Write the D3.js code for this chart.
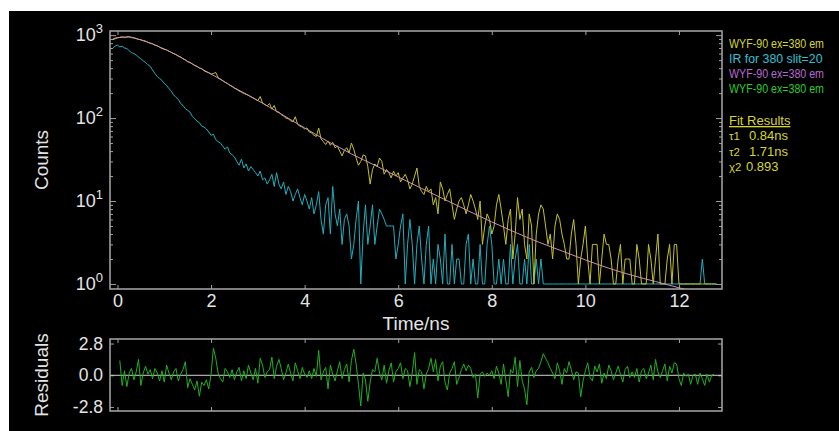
<!DOCTYPE html>
<html>
<head>
<meta charset="utf-8">
<title>WYF-90 decay</title>
<style>
  body { margin: 0; background: #fff; }
  svg { display: block; font-family: 'Liberation Sans', Arial, sans-serif; }
  .tick text { fill: #e4e4e4; }
  .tick line { stroke: #a0a0a0; }
</style>
</head>
<body>
<div id="viz"></div>
<script src="https://cdn.jsdelivr.net/npm/d3@7"></script>
<script>
// channel width and start time of the traces (ns)
var channelNs = 0.05;
var firstChannelNs = -0.1;
var residualStartNs = 0.05;

// WYF-90 decay, counts per channel
var decayCounts = [
  880, 905, 925, 940, 955, 935, 950, 960, 930, 925, 905, 890, 880, 860, 850, 820, 800, 790, 760, 745,
  715, 690, 675, 665, 640, 620, 600, 585, 560, 548, 520, 505, 478, 470, 450, 430, 420, 400, 395, 372,
  360, 352, 338, 345, 355, 308, 296, 282, 270, 262, 248, 240, 228, 222, 212, 205, 198, 193, 188, 180,
  175, 168, 162, 182, 152, 146, 140, 150, 128, 142, 119, 118, 110, 106, 100, 98, 93, 90, 104, 84,
  80, 78, 74, 76, 68, 66, 62, 60, 76, 56, 52, 48, 53, 47, 51, 44, 46, 40, 35, 41,
  44, 38, 50, 42, 33, 27, 30, 36, 35, 26, 16, 24, 28, 26, 33, 30, 21, 24, 22, 19,
  23, 20, 22, 17, 19, 21, 18, 14, 16, 20, 25, 15, 13, 12, 15, 13, 14, 9, 11, 7,
  17, 14, 10, 12, 14, 9, 6, 8, 10, 11, 9, 7, 9, 12, 10, 8, 6, 10, 3, 5,
  7, 6, 4, 5, 9, 12, 8, 5, 3, 6, 8, 2, 4, 11, 6, 8, 3, 2, 7, 5,
  1, 4, 7, 9, 8, 5, 3, 4, 2, 5, 7, 6, 4, 3, 2, 2, 4, 6, 3, 1,
  2, 3, 5, 2, 1, 3, 3, 3, 1, 2, 4, 3, 3, 2, 1, 1, 2, 3, 1, 2,
  2, 2, 1, 1, 3, 2, 1, 1, 1, 3, 2, 1, 2, 4, 1, 1, 1, 2, 3, 1,
  3, 3, 1, 1, 1, 1, 1, 1, 1, 1, 1, 1, 1, 1, 1, 1, 1, 1, 1
];

// instrument response, counts per channel
var irfCounts = [
  690, 740, 760, 720, 735, 700, 690, 650, 615, 600, 575, 545, 520, 490, 470, 440, 420, 380, 345, 318,
  300, 285, 262, 248, 226, 212, 190, 178, 168, 150, 142, 130, 124, 118, 105, 98, 92, 88, 80, 78,
  74, 68, 62, 64, 55, 52, 50, 46, 42, 45, 38, 36, 34, 30, 27, 32, 25, 28, 23, 26,
  24, 22, 20, 23, 18, 19, 16, 18, 21, 15, 22, 16, 14, 17, 12, 15, 13, 10, 12, 14,
  11, 9, 12, 10, 8, 11, 7, 9, 13, 6, 4, 9, 11, 4, 15, 7, 5, 8, 3, 6,
  7, 5, 2, 3, 6, 10, 1, 4, 9, 3, 5, 9, 3, 5, 8, 7, 6, 5, 5, 5,
  5, 2, 3, 5, 7, 1, 3, 6, 3, 1, 3, 5, 2, 1, 3, 5, 1, 2, 1, 3,
  2, 1, 4, 1, 1, 3, 1, 2, 2, 1, 1, 3, 4, 1, 2, 1, 1, 3, 1, 1,
  3, 5, 3, 1, 1, 2, 1, 2, 1, 1, 3, 1, 2, 3, 1, 1, 2, 1, 3, 1,
  1, 2, 1, 2, 1, 1, 1, 1, 1, 1, 1, 1, 1, 1, 1, 1, 1, 1, 1, 1,
  1, 1, 1, 1, 1, 1, 1, 1, 1, 1, 1, 1, 1, 1, 1, 1, 1, 1, 1, 1,
  1, 1, 1, 1, 1, 1, 1, 1, 1, 1, 1, 1, 1, 1, 1, 1, 1, 1, 1, 1,
  1, 1, 1, 1, 1, 1, 1, 1, 1, 1, 1, 1, 2, 1, 1, 1, 1, 1, 1
];

// fitted curve
var fitTimes = [-0.1, 0, 0.25, 0.5, 0.75, 1, 1.25, 1.5, 1.75, 2, 2.25, 2.5, 2.75, 3, 3.25, 3.5, 3.75, 4,
  4.25, 4.5, 4.75, 5, 5.5, 6, 6.5, 7, 7.5, 8, 8.5, 9, 9.5, 10, 10.5, 11, 11.5, 12, 12.5];
var fitCounts = [900, 935, 950, 875, 780, 680, 580, 482, 405, 340, 282, 232, 195, 163, 135, 112, 92, 76,
  63, 52, 44, 37, 27, 19.5, 14.2, 10.4, 7.6, 5.6, 4.2, 3.2, 2.5, 1.95, 1.55, 1.27, 1.07, 0.9, 0.76];

// weighted residuals
var residuals = [
  1.3, -0.9, 0.4, -1.0, 0.2, 0.6, -0.4, 0.3, 1.4, -0.9, 0.2, 0.8, 0.1, 0.5, -0.3, 0.6, 0.2, -0.5, 0.4, -0.6,
  0.9, 0.2, -0.4, 0.3, 0.6, -0.5, 0.1, 0.5, 1.2, -1.1, -0.3, -0.8, -1.3, -0.5, -1.85, -0.6, -0.9, -0.4, -1.2, 0.1,
  2.4, 1.5, 0.2, -0.3, -0.6, 0.6, 0.3, -0.2, 0.5, -0.4, 0.3, 0.7, -0.5, 0.4, -0.3, 0.9, 0.2, -0.4, 0.6, -0.7,
  1.5, 0.9, -0.2, 0.3, 0.5, 1.6, -0.3, 0.8, 1.4, 0.6, -0.4, 0.2, 1.0, 0.2, -0.5, 1.1, 0.4, -0.3, 0.7, 0.1,
  -0.2, 0.4, -0.3, 0.6, -0.1, 2.2, -0.4, 0.3, 0.7, -1.2, 0.9, 0.1, -0.5, 0.4, 1.2, -0.3, 0.5, 1.0, -0.6, 1.3,
  2.3, 1.0, -0.8, -2.7, 0.2, -0.4, -2.3, -0.6, 0.5, 0.3, 1.5, 0.2, -0.4, 0.9, -0.7, 0.4, 1.1, -0.6, 0.3, 0.6,
  1.1, -0.3, 0.6, 0.4, -1.0, 0.2, 2.0, -0.8, 0.5, 0.3, -1.2, 0.1, 0.6, 1.5, 0.3, 1.4, -0.5, 0.8, 1.2, -0.6,
  -1.3, 0.2, 0.6, 1.2, -0.8, -0.2, 0.5, 1.0, 0.4, 0.9, 0.6, -0.2, 0.1, -2.0, 0.1, 0.3, -0.1, 0.2, 0.0, 0.4,
  -0.3, 0.8, 0.2, -0.8, 1.0, -0.4, -1.9, 0.5, 0.2, 1.6, -1.0, 1.3, -0.5, -1.2, -2.6, 0.3, 0.7, -0.2, 0.4, 0.6,
  1.2, 1.9, 1.5, 1.1, 0.6, 0.2, -0.3, 1.1, 0.4, -0.8, 0.6, 0.2, 1.2, 0.5, -0.4, 0.3, 0.2, -1.9, -0.5, 0.4,
  1.1, -0.2, -0.5, 0.8, 0.3, 1.0, -0.7, 0.2, -0.3, 0.9, 0.4, -0.4, 0.2, 0.8, 0.1, -0.6, 0.5, 0.8, -0.2, 0.3,
  -0.2, 0.6, -0.6, 0.4, 0.6, -0.3, 0.2, 0.9, -0.4, 1.4, 0.3, -0.2, 0.4, 1.0, -0.5, 0.8, 0.2, 1.1, 1.0, -0.3,
  -0.9, 0.2, -0.1, 0.1, -0.8, 0.0, 0.1, -0.8, 0.2, -0.3, -0.9, 0.1, -0.6, 0.0, 0.1
];

var timeTicks = [0, 2, 4, 6, 8, 10, 12];
var countTicks = [1, 10, 100, 1000];
var residualTicks = [-2.8, 0, 2.8];
var legendLabels = ['WYF-90 ex=380 em', 'IR for 380 slit=20', 'WYF-90 ex=380 em', 'WYF-90 ex=380 em'];
var fitNames = ['\u03c41', '\u03c42', '\u03c72'];
var fitValues = ['0.84ns', '1.71ns', '0.893'];

var legendColors = ['#d6d62c', '#2ec2d4', '#b86ad2', '#2ccc2c'];
var W = 839, H = 431;
var plot = {left: 110, right: 722, top: 31, bottom: 289};
var res = {top: 339, bottom: 411};

var svg = d3.select('#viz').append('svg')
    .attr('width', W)
    .attr('height', H);

svg.append('rect')
    .attr('x', 9).attr('y', 11)
    .attr('width', W - 9).attr('height', H - 11)
    .attr('fill', '#000');

var x = d3.scaleLinear().domain([-0.16, 12.92]).range([plot.left, plot.right]);
var y = d3.scaleLog().domain([0.87, 1122]).range([plot.bottom, plot.top]);
var yr = d3.scaleLinear().domain([-3.15, 3.2]).range([res.bottom, res.top]);

// minor log ticks 2..9 in each decade
var minorTicks = [];
countTicks.forEach(function(d) {
  for (var m = 2; m <= 9; m++) {
    if (d * m < y.domain()[1]) minorTicks.push(d * m);
  }
});

svg.append('clipPath').attr('id', 'clipMain')
  .append('rect')
    .attr('x', plot.left).attr('y', plot.top)
    .attr('width', plot.right - plot.left).attr('height', plot.bottom - plot.top);

svg.append('clipPath').attr('id', 'clipRes')
  .append('rect')
    .attr('x', plot.left).attr('y', res.top)
    .attr('width', plot.right - plot.left).attr('height', res.bottom - res.top);

function styleAxis(g, size) {
  g.attr('font-family', "'Liberation Sans', Arial, sans-serif")
   .attr('font-size', size);
  g.select('.domain').remove();
}

// ---- decay panel axes ----
var leftMajor = svg.append('g')
    .attr('transform', 'translate(' + plot.left + ',0)')
    .call(d3.axisLeft(y).tickValues(countTicks).tickSize(-6).tickPadding(7));
styleAxis(leftMajor, 18);
leftMajor.selectAll('.tick text').each(function(d) {
  var t = d3.select(this).text('');
  t.append('tspan').text('10');
  t.append('tspan').attr('font-size', 13).attr('dy', '-0.62em').text(Math.round(Math.log10(d)));
});

svg.append('g')
    .attr('transform', 'translate(' + plot.left + ',0)')
    .call(d3.axisLeft(y).tickValues(minorTicks).tickSize(-3).tickFormat(''))
    .call(styleAxis, 10);

svg.append('g')
    .attr('transform', 'translate(' + plot.right + ',0)')
    .call(d3.axisRight(y).tickValues(countTicks).tickSize(-6).tickFormat(''))
    .call(styleAxis, 10);

svg.append('g')
    .attr('transform', 'translate(' + plot.right + ',0)')
    .call(d3.axisRight(y).tickValues(minorTicks).tickSize(-3).tickFormat(''))
    .call(styleAxis, 10);

svg.append('g')
    .attr('transform', 'translate(0,' + plot.bottom + ')')
    .call(d3.axisBottom(x).tickValues(timeTicks).tickSize(-4).tickPadding(5))
    .call(styleAxis, 18);

svg.append('g')
    .attr('transform', 'translate(0,' + plot.top + ')')
    .call(d3.axisTop(x).tickValues(timeTicks).tickSize(-4).tickFormat(''))
    .call(styleAxis, 10);

// ---- residual panel axes ----
svg.append('g')
    .attr('transform', 'translate(' + plot.left + ',0)')
    .call(d3.axisLeft(yr).tickValues(residualTicks).tickSize(-4).tickPadding(7)
      .tickFormat(function(d) { return d.toFixed(1); }))
    .call(styleAxis, 17.5);

svg.append('g')
    .attr('transform', 'translate(' + plot.right + ',0)')
    .call(d3.axisRight(yr).tickValues(residualTicks).tickSize(-4).tickFormat(''))
    .call(styleAxis, 10);

svg.append('g')
    .attr('transform', 'translate(0,' + res.top + ')')
    .call(d3.axisTop(x).tickValues(timeTicks).tickSize(-4).tickFormat(''))
    .call(styleAxis, 10);

svg.append('g')
    .attr('transform', 'translate(0,' + res.bottom + ')')
    .call(d3.axisBottom(x).tickValues(timeTicks).tickSize(-4).tickFormat(''))
    .call(styleAxis, 10);

// ---- traces ----
var countLine = d3.line()
    .x(function(d, i) { return x(firstChannelNs + i * channelNs); })
    .y(function(d) { return y(d); });

var mainG = svg.append('g').attr('clip-path', 'url(#clipMain)');

mainG.append('path')
    .datum(irfCounts)
    .attr('d', countLine)
    .attr('fill', 'none')
    .attr('stroke', '#22aebe')
    .attr('stroke-width', 1);

mainG.append('path')
    .datum(decayCounts)
    .attr('d', countLine)
    .attr('fill', 'none')
    .attr('stroke', '#c4c22a')
    .attr('stroke-width', 1);

mainG.append('path')
    .datum(fitCounts)
    .attr('d', d3.line()
      .curve(d3.curveMonotoneX)
      .x(function(d, i) { return x(fitTimes[i]); })
      .y(function(d) { return y(d); }))
    .attr('fill', 'none')
    .attr('stroke', '#c98ec4')
    .attr('stroke-width', 1);

var resG = svg.append('g').attr('clip-path', 'url(#clipRes)');

resG.append('line')
    .attr('x1', plot.left).attr('x2', plot.right)
    .attr('y1', yr(0)).attr('y2', yr(0))
    .attr('stroke', '#d4d4d4')
    .attr('stroke-width', 1);

resG.append('path')
    .datum(residuals)
    .attr('d', d3.line()
      .x(function(d, i) { return x(residualStartNs + i * channelNs); })
      .y(function(d) { return yr(d); }))
    .attr('fill', 'none')
    .attr('stroke', '#22b022')
    .attr('stroke-width', 1);

// frames
[[plot.top, plot.bottom], [res.top, res.bottom]].forEach(function(p) {
  svg.append('rect')
      .attr('x', plot.left).attr('y', p[0])
      .attr('width', plot.right - plot.left).attr('height', p[1] - p[0])
      .attr('fill', 'none')
      .attr('stroke', '#a8a8a8')
      .attr('stroke-width', 1.5);
});

// axis titles
svg.append('text')
    .attr('transform', 'translate(48,' + ((plot.top + plot.bottom) / 2) + ') rotate(-90)')
    .attr('text-anchor', 'middle')
    .attr('font-size', 19)
    .attr('fill', '#e4e4e4')
    .text('Counts');

svg.append('text')
    .attr('transform', 'translate(48,' + ((res.top + res.bottom) / 2) + ') rotate(-90)')
    .attr('text-anchor', 'middle')
    .attr('font-size', 19)
    .attr('fill', '#e4e4e4')
    .text('Residuals');

svg.append('text')
    .attr('x', (plot.left + plot.right) / 2)
    .attr('y', 330)
    .attr('text-anchor', 'middle')
    .attr('font-size', 19)
    .attr('fill', '#e4e4e4')
    .text('Time/ns');

// legend, squeezed horizontally so the long labels stay inside the window
var legend = svg.append('g').attr('font-size', 13);
legend.selectAll('text.lab')
    .data(legendLabels)
    .enter().append('text')
    .attr('class', 'lab')
    .attr('transform', function(d, i) {
      return 'translate(729,' + (48 + i * 15) + ') scale(' + (i === 1 ? 0.95 : 0.82) + ',1)';
    })
    .attr('fill', function(d, i) { return legendColors[i]; })
    .text(function(d) { return d; });

legend.append('text')
    .attr('x', 729).attr('y', 125)
    .attr('fill', legendColors[0])
    .attr('text-decoration', 'underline')
    .text('Fit Results');

var fitRows = legend.selectAll('g.fit')
    .data(fitNames)
    .enter().append('g')
    .attr('class', 'fit');
fitRows.append('text')
    .attr('x', 729)
    .attr('y', function(d, i) { return 140 + i * 15.5; })
    .attr('fill', legendColors[0])
    .attr('font-size', 11.5)
    .text(function(d) { return d; });
fitRows.append('text')
    .attr('x', function(d, i) { return i < 2 ? 749 : 746; })
    .attr('y', function(d, i) { return 140 + i * 15.5; })
    .attr('fill', legendColors[0])
    .text(function(d, i) { return fitValues[i]; });
</script>
</body>
</html>
